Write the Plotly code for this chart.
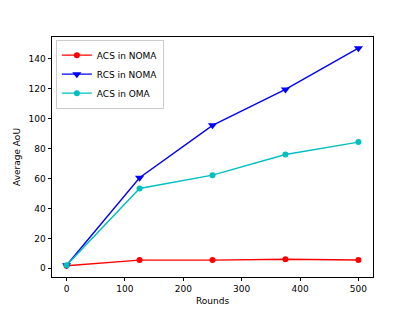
import plotly.graph_objects as go

rounds = [0, 125, 250, 375, 500]
acs_noma = [1.7, 5.5, 5.5, 6.1, 5.6]
rcs_noma = [2.0, 60.5, 95.5, 119.5, 147.0]
acs_oma = [2.0, 53.3, 62.2, 76.0, 84.3]
xticks = [0, 100, 200, 300, 400, 500]
yticks = [0, 20, 40, 60, 80, 100, 120, 140]

fig = go.Figure()
fig.add_trace(go.Scatter(x=rounds, y=acs_noma, mode="lines+markers", name="ACS in NOMA",
                         line=dict(color="#ff0000", width=1.4),
                         marker=dict(symbol="circle", size=6, color="#ff0000")))
fig.add_trace(go.Scatter(x=rounds, y=rcs_noma, mode="lines+markers", name="RCS in NOMA",
                         line=dict(color="#0000ff", width=1.4),
                         marker=dict(symbol="triangle-down", size=8, color="#0000ff")))
fig.add_trace(go.Scatter(x=rounds, y=acs_oma, mode="lines+markers", name="ACS in OMA",
                         line=dict(color="#00bfbf", width=1.4),
                         marker=dict(symbol="circle", size=6, color="#00bfbf")))

axis_common = dict(showgrid=False, zeroline=False, showline=True, linecolor="black",
                   linewidth=0.8, mirror=True, ticks="outside", ticklen=3.5,
                   tickwidth=0.8, tickcolor="black", automargin=False,
                   tickfont=dict(family="DejaVu Sans", size=9, color="black"))

# page body has an 8px default margin, so the figure is sized to fill the rest
fig.update_layout(
    width=407, height=303,
    margin=dict(l=44, r=41.5, t=29.3, b=34.2),
    paper_bgcolor="white", plot_bgcolor="white",
    font=dict(family="DejaVu Sans", size=9, color="black"),
    xaxis=dict(range=[-25, 525], tickvals=xticks,
               title=dict(text="Rounds", font=dict(size=9), standoff=4), **axis_common),
    yaxis=dict(range=[-5.8, 154.5], tickvals=yticks,
               title=dict(text="Average AoU", font=dict(size=9), standoff=6), **axis_common),
    legend=dict(x=0.012, y=0.989, xanchor="left", yanchor="top",
                bgcolor="rgba(255,255,255,0.8)", bordercolor="#cccccc", borderwidth=1,
                font=dict(size=9), itemwidth=30, tracegroupgap=0),
    showlegend=True,
)

fig.write_html("out.html")
